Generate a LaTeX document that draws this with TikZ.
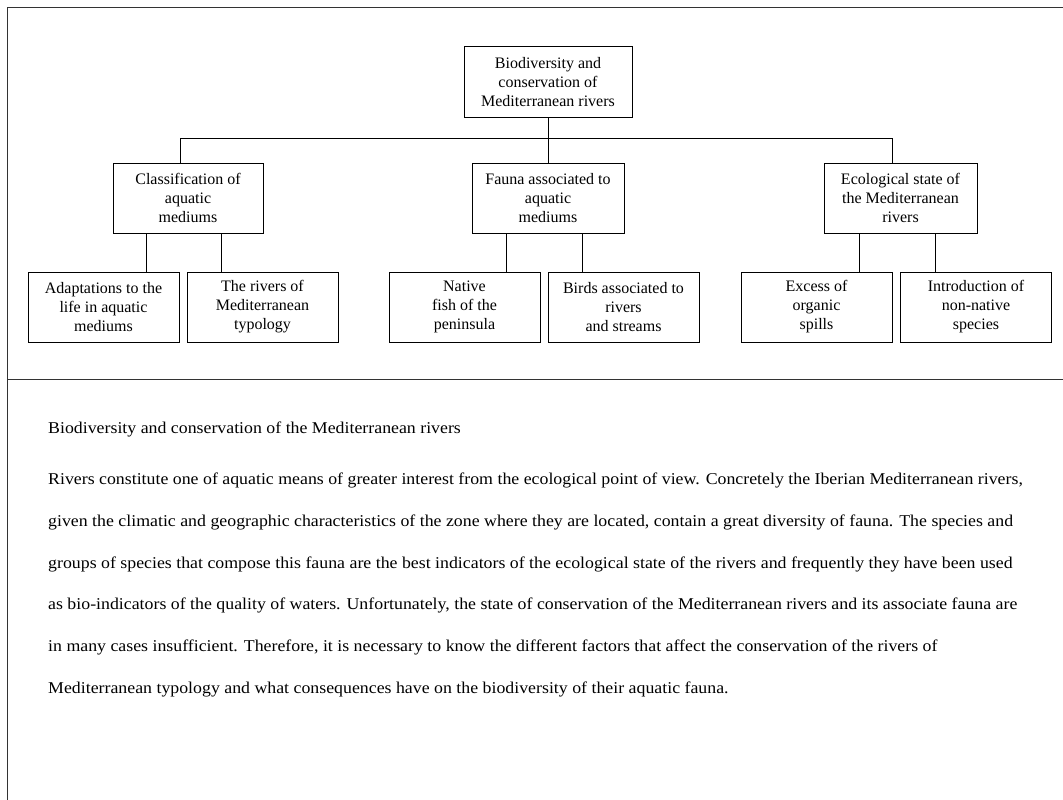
\documentclass[tikz,border=0pt]{standalone}
\usepackage{fontspec}
\setmainfont{Liberation Serif}
\newfontfamily\paratext{Liberation Serif}[FakeStretch=1.08]

\tikzset{
  box/.style={draw, line width=1pt, minimum width=151pt, minimum height=70pt,
    align=center, inner sep=0pt, font=\fontsize{16}{19}\selectfont},
  link/.style={line width=1pt},
  frame/.style={line width=1.6pt, color=black!80},
  txt/.style={anchor=base west, inner sep=0pt, font=\paratext\fontsize{16.5}{20}\selectfont}
}

\begin{document}
\begin{tikzpicture}[x=1pt,y=-1pt]
   \useasboundingbox (0,0) rectangle (1063,800);

   \draw[frame] (7.5,800) -- (7.5,7.5) -- (1063,7.5);
   \draw[frame] (7.5,379.5) -- (1063,379.5);

   \node[box, minimum width=168pt] (root) at (548,82) {Biodiversity and\\conservation of\\Mediterranean rivers};

   \node[box, minimum width=150pt] (class) at (188,198) {Classification of\\aquatic\\mediums};
   \node[box, minimum width=152pt] (fauna) at (548,198) {Fauna associated to\\aquatic\\mediums};
   \node[box, minimum width=153pt] (state) at (900.5,198) {Ecological state of\\the Mediterranean\\rivers};

   \node[box] (adapt) at (103.5,307) {Adaptations to the\\life in aquatic\\mediums};
   \node[box] (typo) at (262.5,307) {The rivers of\\Mediterranean\\typology};
   \node[box] (fish) at (464.5,307) {Native\\fish of the\\peninsula};
   \node[box] (birds) at (623.5,307) {Birds associated to\\rivers\\and streams};
   \node[box] (spill) at (816.5,307) {Excess of\\organic\\spills};
   \node[box] (alien) at (976,307) {Introduction of\\non-native\\species};

   \coordinate (busl) at (180,138);
   \coordinate (busr) at (892,138);
   \draw[link] (busl) -- (busr);
   \draw[link] (root) -- (root |- busl);
   \draw[link] (busl) -- (busl |- class.north);
   \draw[link] (root |- busl) -- (fauna);
   \draw[link] (busr) -- (busr |- state.north);

   \draw[link] ([xshift=-42pt]class.south) -- ([xshift=-42pt]class.south |- adapt.north);
   \draw[link] ([xshift=33pt]class.south) -- ([xshift=33pt]class.south |- typo.north);
   \draw[link] ([xshift=-42pt]fauna.south) -- ([xshift=-42pt]fauna.south |- fish.north);
   \draw[link] ([xshift=34pt]fauna.south) -- ([xshift=34pt]fauna.south |- birds.north);
   \draw[link] ([xshift=-41.5pt]state.south) -- ([xshift=-41.5pt]state.south |- spill.north);
   \draw[link] ([xshift=34.5pt]state.south) -- ([xshift=34.5pt]state.south |- alien.north);

   \node[txt] (head) at (48,433) {Biodiversity and conservation of the Mediterranean rivers};
   \node[txt] (p1) at (48,484) {Rivers constitute one of aquatic means of greater interest from the ecological point of view. Concretely the Iberian Mediterranean rivers,};
   \node[txt] (p2) at (48,526) {given the climatic and geographic characteristics of the zone where they are located, contain a great diversity of fauna. The species and};
   \node[txt] (p3) at (48,568) {groups of species that compose this fauna are the best indicators of the ecological state of the rivers and frequently they have been used};
   \node[txt] (p4) at (48,609) {as bio-indicators of the quality of waters. Unfortunately, the state of conservation of the Mediterranean rivers and its associate fauna are};
   \node[txt] (p5) at (48,651) {in many cases insufficient. Therefore, it is necessary to know the different factors that affect the conservation of the rivers of};
   \node[txt] (p6) at (48,693) {Mediterranean typology and what consequences have on the biodiversity of their aquatic fauna.};
\end{tikzpicture}
\end{document}
